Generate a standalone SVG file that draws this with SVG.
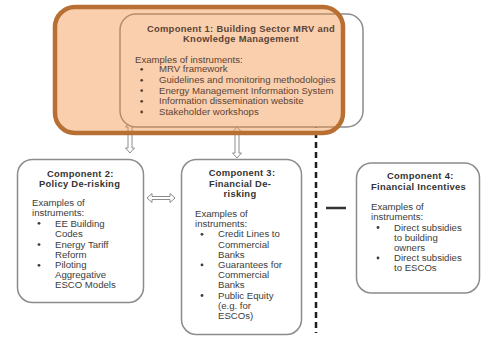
<svg xmlns="http://www.w3.org/2000/svg" width="487" height="338" viewBox="0 0 487 338">
<style>
.box{fill:#fff;stroke:#8c8c8c;stroke-width:1.5}
.t{font-family:"Liberation Sans",Arial,sans-serif;font-size:9.6px;fill:#3c3c3c}
.b{font-family:"Liberation Sans",Arial,sans-serif;font-size:9.4px;font-weight:bold;fill:#333;letter-spacing:0.3px}
.c1{fill:#5a4436}
.dot{fill:#3c3c3c}
.harrow{fill:#fff;stroke:#8c8c8c;stroke-width:1}
</style>
<rect width="487" height="338" fill="#fff"/>
<g id="connectors">
  <path class="harrow" d="M130,122 L134.5,127 L132,127 L132,148 L134.5,148 L130,153 L125.5,148 L128,148 L128,127 L125.5,127 Z"/>
  <path class="harrow" d="M237,127 L241.5,132 L239,132 L239,153 L241.5,153 L237,158 L232.5,153 L235,153 L235,132 L232.5,132 Z"/>
  <path class="harrow" d="M147,198 L152,193.5 L152,196.5 L170,196.5 L170,193.5 L175,198 L170,202.5 L170,199.5 L152,199.5 L152,202.5 Z"/>
  <line x1="316" y1="122" x2="316" y2="333" stroke="#1e1e1e" stroke-width="2.5" stroke-dasharray="6 4"/>
  <line x1="326" y1="208" x2="346" y2="208" stroke="#333" stroke-width="2.5"/>
</g>
<g id="comp1">
  <rect x="120" y="14" width="243" height="113" rx="16" class="box"/>
  <rect x="55" y="7" width="288" height="126" rx="20" fill="#f28c3c" fill-opacity="0.42" stroke="#b86f34" stroke-width="4.5"/>
  <text class="b c1" x="241" y="32" text-anchor="middle">Component 1: Building Sector MRV and</text>
  <text class="b c1" x="241" y="42" text-anchor="middle">Knowledge Management</text>
  <text class="t c1" x="135" y="62.6">Examples of instruments:</text>
  <g class="c1">
    <circle cx="141.7" cy="69.3" r="1.4"/>
    <circle cx="141.7" cy="80.3" r="1.4"/>
    <circle cx="141.7" cy="90.6" r="1.4"/>
    <circle cx="141.7" cy="101.3" r="1.4"/>
    <circle cx="141.7" cy="112" r="1.4"/>
  </g>
  <text class="t c1" x="159" y="72.3">MRV framework</text>
  <text class="t c1" x="159" y="83.3">Guidelines and monitoring methodologies</text>
  <text class="t c1" x="159" y="93.6">Energy Management Information System</text>
  <text class="t c1" x="159" y="104.3">Information dissemination website</text>
  <text class="t c1" x="159" y="115">Stakeholder workshops</text>
</g>
<g id="comp2">
  <rect x="17.5" y="159.5" width="126" height="143" rx="15" class="box"/>
  <text class="b" x="47" y="177.3">Component 2:</text>
  <text class="b" x="39" y="187.3">Policy De-risking</text>
  <text class="t" x="32" y="206">Examples of</text>
  <text class="t" x="32" y="216">instruments:</text>
  <circle class="dot" cx="39" cy="223.3" r="1.4"/>
  <circle class="dot" cx="39" cy="244.6" r="1.4"/>
  <circle class="dot" cx="39" cy="265.3" r="1.4"/>
  <text class="t" x="55" y="226.6">EE Building</text>
  <text class="t" x="55" y="236.6">Codes</text>
  <text class="t" x="55" y="247.6">Energy Tariff</text>
  <text class="t" x="55" y="257.6">Reform</text>
  <text class="t" x="55" y="268.3">Piloting</text>
  <text class="t" x="55" y="278.3">Aggregative</text>
  <text class="t" x="55" y="288.3">ESCO Models</text>
</g>
<g id="comp3">
  <rect x="181.5" y="159.5" width="120" height="175" rx="15" class="box"/>
  <text class="b" x="242" y="176.3" text-anchor="middle">Component 3:</text>
  <text class="b" x="240" y="187" text-anchor="middle">Financial De-</text>
  <text class="b" x="240" y="197.3" text-anchor="middle">risking</text>
  <text class="t" x="195" y="217.3">Examples of</text>
  <text class="t" x="195" y="227.3">instruments:</text>
  <circle class="dot" cx="202" cy="234.3" r="1.4"/>
  <circle class="dot" cx="202" cy="264.9" r="1.4"/>
  <circle class="dot" cx="202" cy="295.5" r="1.4"/>
  <text class="t" x="218" y="237.3">Credit Lines to</text>
  <text class="t" x="218" y="247.5">Commercial</text>
  <text class="t" x="218" y="257.7">Banks</text>
  <text class="t" x="218" y="267.9">Guarantees for</text>
  <text class="t" x="218" y="278.1">Commercial</text>
  <text class="t" x="218" y="288.3">Banks</text>
  <text class="t" x="218" y="298.5">Public Equity</text>
  <text class="t" x="218" y="308.7">(e.g. for</text>
  <text class="t" x="218" y="318.9">ESCOs)</text>
</g>
<g id="comp4">
  <rect x="356.5" y="163" width="123" height="130" rx="15" class="box"/>
  <text class="b" x="387" y="179.3">Component 4:</text>
  <text class="b" x="371" y="190.3">Financial Incentives</text>
  <text class="t" x="371" y="209.5">Examples of</text>
  <text class="t" x="371" y="219.5">instruments:</text>
  <circle class="dot" cx="378" cy="227.5" r="1.4"/>
  <circle class="dot" cx="378" cy="258" r="1.4"/>
  <text class="t" x="394" y="230.5">Direct subsidies</text>
  <text class="t" x="394" y="240.5">to building</text>
  <text class="t" x="394" y="250.5">owners</text>
  <text class="t" x="394" y="261">Direct subsidies</text>
  <text class="t" x="394" y="271">to ESCOs</text>
</g>
</svg>
